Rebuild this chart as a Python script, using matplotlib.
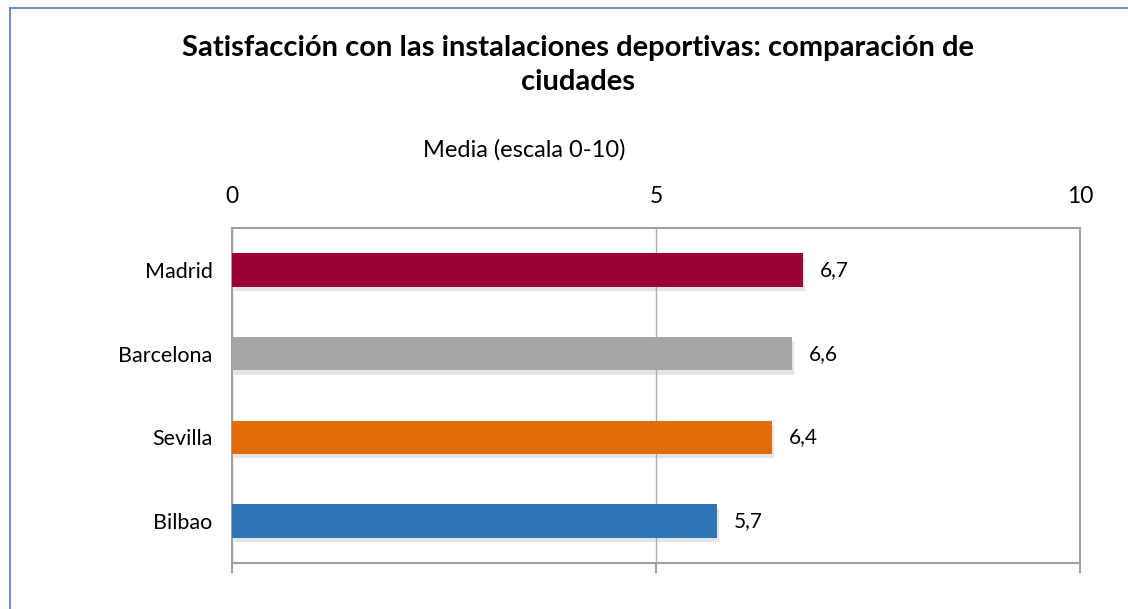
import matplotlib.pyplot as plt
import matplotlib.patheffects as pe
from matplotlib.lines import Line2D

plt.rcParams['font.family'] = ['Lato', 'DejaVu Sans']

ciudades = ['Madrid', 'Barcelona', 'Sevilla', 'Bilbao']
medias = [6.73, 6.60, 6.37, 5.72]
colores = ['#990033', '#a6a6a6', '#e36c0a', '#2e75b6']
ticks = [0, 5, 10]

fig = plt.figure(figsize=(11.28, 6.09), dpi=100)
ax = fig.add_axes([0.2057, 0.0755, 0.7517, 0.5501])

pos = list(range(len(ciudades)))
shadow = [pe.SimplePatchShadow(offset=(1.5, -3), shadow_rgbFace='#999999', alpha=0.25), pe.Normal()]
bars = ax.barh(pos, medias, height=0.4, color=colores, zorder=3)
for b in bars:
    b.set_path_effects(shadow)

for p, v in zip(pos, medias):
    ax.text(v + 0.2, p, f'{v:.1f}'.replace('.', ','), va='center', ha='left', fontsize=15, zorder=4)

ax.set_xlim(0, 10)
ax.set_ylim(len(ciudades) - 0.5, -0.5)
ax.set_yticks(pos)
ax.set_yticklabels(ciudades, fontsize=15.5)
ax.tick_params(axis='y', length=0, pad=14)

ax.set_xticks(ticks)
ax.xaxis.set_ticks_position('both')
ax.tick_params(axis='x', which='both', labelbottom=False, labeltop=True, labelsize=16.5,
               top=False, bottom=True, direction='out', length=7, width=1.5, color='#a0a0a0', pad=8)
ax.grid(axis='x', color='#b0b0b0', linewidth=1, zorder=0)

for s in ax.spines.values():
    s.set_color('#a0a0a0')
    s.set_linewidth(1.5)

fig.text(0.465, 0.754, 'Media (escala 0-10)', ha='center', va='center', fontsize=17)
fig.text(0.512, 0.893, 'Satisfacción con las instalaciones deportivas: comparación de\nciudades',
         ha='center', va='center', fontsize=21, fontweight='bold', linespacing=1.38)

# marco del gráfico
fig.add_artist(Line2D([10/1128, 10/1128], [0, 1 - 8/609], color='#4f81bd', linewidth=1.2))
fig.add_artist(Line2D([10/1128, 1], [1 - 8/609, 1 - 8/609], color='#4f81bd', linewidth=1.2))

fig.savefig('out.png', dpi=100)
